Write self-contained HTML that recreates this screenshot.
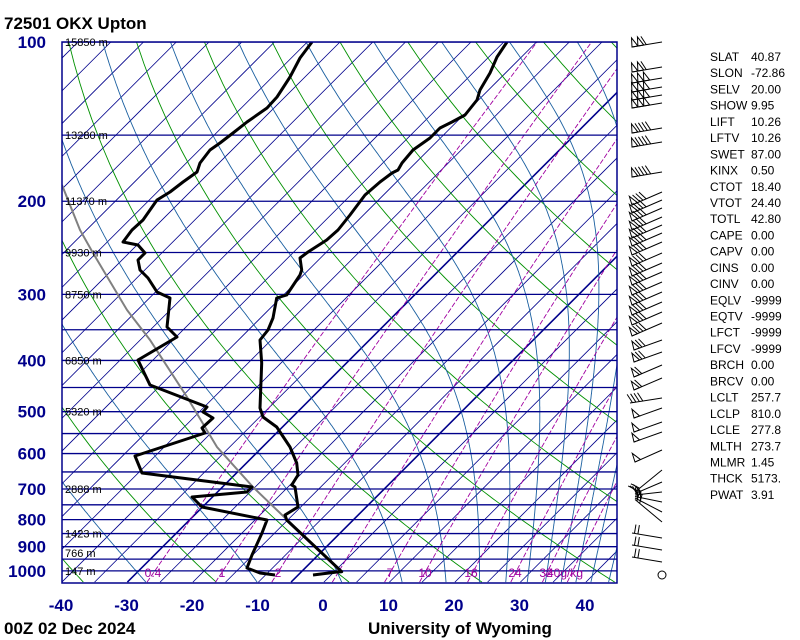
<!DOCTYPE html>
<html><head><meta charset="utf-8">
<style>
html,body{margin:0;padding:0;background:#fff;}
svg{display:block;}
text{font-family:"Liberation Sans",sans-serif;}
</style></head>
<body>
<svg id="s" width="800" height="640" xmlns="http://www.w3.org/2000/svg">
<defs><clipPath id="c"><rect x="62" y="42" width="555" height="541"/></clipPath></defs>
<rect width="800" height="640" fill="#fff"/>
<g id="grid" clip-path="url(#c)"></g>
<g id="data" clip-path="url(#c)"></g>
<rect x="62" y="42" width="555" height="541" fill="none" stroke="#00008b" stroke-width="1.5"/>
<g id="lab"></g>
<g id="barbs" stroke="#000" stroke-width="1" fill="none"></g>
<text x="4" y="29" font-size="17" font-weight="bold">72501 OKX Upton</text>
<text x="4" y="634" font-size="17" font-weight="bold">00Z 02 Dec 2024</text>
<text x="368" y="634" font-size="17" font-weight="bold">University of Wyoming</text>
</svg>
<script>
(function(){
var NS="http://www.w3.org/2000/svg";
function Y(p){return 42+229.7*Math.log(p/100);}
function X(T,p){return 323+6.55*T+(583-Y(p));}
function el(par,tag,a,txt){var e=document.createElementNS(NS,tag);for(var k in a)e.setAttribute(k,a[k]);if(txt!==undefined)e.textContent=txt;document.getElementById(par).appendChild(e);return e;}
function path(par,pts,a){var d="";pts.forEach(function(q,i){d+=(i?"L":"M")+q[0].toFixed(1)+" "+q[1].toFixed(1);});a.d=d;a.fill="none";return el(par,"path",a);}
for(var T=-150;T<=50;T+=5){
  var thick=(T==-5||T==-30);
  path("grid",[[X(T,1050),Y(1050)],[X(T,100),Y(100)]],{stroke:"#00008b","stroke-width":thick?1.6:0.8});
}
for(var th=-40;th<=220;th+=20){var pts=[];for(var p=1050;p>=100;p-=10){var t=(th+273.15)*Math.pow(p/1000,0.286)-273.15;pts.push([X(t,p),Y(p)]);}path("grid",pts,{stroke:"#009000","stroke-width":0.9});}
function es(t){return 6.112*Math.exp(17.67*t/(t+243.5));}
for(var th2=-30;th2<=230;th2+=20){
 var TK=(th2+273.15)*Math.pow(0.1,0.286),pts2=[],p2=100;pts2.push([X(TK-273.15,p2),Y(p2)]);
 while(p2<1050){var tc=TK-273.15,e=es(tc),rs=0.622*e/(p2-e);
  var b=(287*TK+2.5e6*rs)/(1004+2.5e6*2.5e6*rs*0.622/(287*TK*TK));
  TK+=b/p2*2;p2+=2;pts2.push([X(TK-273.15,p2),Y(p2)]);if(TK>340)break;}
 path("grid",pts2,{stroke:"#1a5fa0","stroke-width":0.9});
}
var ws=[0.4,1,2,4,7,10,16,24,32,40];
ws.forEach(function(w){var pts=[];for(var p=1050;p>=100;p-=10){var e=w*p/(622+w),l=Math.log(e/6.112),td=243.5*l/(17.67-l);pts.push([X(td,p),Y(p)]);}path("grid",pts,{stroke:"#a000a0","stroke-width":0.9,"stroke-dasharray":"5,2"});});
for(var pp=100;pp<=1000;pp+=50){el("grid","line",{x1:62,x2:617,y1:Y(pp),y2:Y(pp),stroke:"#00008b","stroke-width":1.3});}
[["0.4",153],["1",222],["2",278],["7",390],["10",425],["16",471],["24",515],["32",546],["40g/kg",565]].forEach(function(l){el("lab","text",{x:l[1],y:577,"font-size":12,fill:"#a000a0","text-anchor":"middle"},l[0]);});
[["15850 m",100],["13280 m",150],["11370 m",200],["9930 m",250],["8750 m",300],["6850 m",400],["5320 m",500],["2888 m",700],["1423 m",850],["766 m",925],["147 m",1000]].forEach(function(h){var yy=Y(h[1]);if(h[1]==925)yy=553;el("lab","text",{x:65,y:yy+4,"font-size":11,fill:"#000"},h[0]);});
[100,200,300,400,500,600,700,800,900,1000].forEach(function(p){el("lab","text",{x:46,y:Y(p)+6,"font-size":17,"font-weight":"bold",fill:"#00008b","text-anchor":"end"},""+p);});
[-40,-30,-20,-10,0,10,20,30,40].forEach(function(t){el("lab","text",{x:323+6.55*t,y:611,"font-size":17,"font-weight":"bold",fill:"#00008b","text-anchor":"middle"},""+t);});
var temp=[[313,575],[337,572],[341.7,571.7],[286.7,520],[285,515],[298,507],[295,487],[291.7,485],[298,475],[296.7,463],[290,447],[276.7,427],[263,417],[260,408],[261.7,363],[260,340],[268,330],[273,318],[276.7,298],[286.7,295],[300,275],[301.7,270],[300,258],[308,252],[326.7,240],[338,230],[350,215],[365,195],[380,182],[392,173],[398,170],[402,163],[413,150],[430,138],[440,128],[452,122],[465,115],[477,100],[480,90],[490,73],[497,57],[507,42]];
var dew=[[275,575],[260,573],[247,568],[252,555],[262,533],[267,520],[202,507],[192,497],[247,492],[252,487],[142,473],[135,456],[205,433],[202,428],[213,418],[203,412],[207,407],[150,385],[138,360],[177,337],[167,327],[170,298],[157,292],[148,278],[140,270],[138,260],[145,253],[138,245],[123,242],[132,230],[143,220],[157,200],[170,192],[183,182],[197,172],[200,163],[210,150],[220,143],[233,133],[247,122],[267,108],[277,97],[290,77],[300,58],[312,42]];
var parc=[[341,572],[280,513],[253,487],[217,447],[187,397],[150,340],[127,310],[93,253],[80,230],[62,185]];
path("data",parc,{stroke:"#808080","stroke-width":2});
path("data",temp,{stroke:"#000","stroke-width":3,"stroke-linejoin":"round"});
path("data",dew,{stroke:"#000","stroke-width":3,"stroke-linejoin":"round"});
var st=[["SLAT","40.87"],["SLON","-72.86"],["SELV","20.00"],["SHOW","9.95"],["LIFT","10.26"],["LFTV","10.26"],["SWET","87.00"],["KINX","0.50"],["CTOT","18.40"],["VTOT","24.40"],["TOTL","42.80"],["CAPE","0.00"],["CAPV","0.00"],["CINS","0.00"],["CINV","0.00"],["EQLV","-9999"],["EQTV","-9999"],["LFCT","-9999"],["LFCV","-9999"],["BRCH","0.00"],["BRCV","0.00"],["LCLT","257.7"],["LCLP","810.0"],["LCLE","277.8"],["MLTH","273.7"],["MLMR","1.45"],["THCK","5173."],["PWAT","3.91"]];
st.forEach(function(s,i){var yy=61+16.22*i;el("lab","text",{x:710,y:yy,"font-size":12},s[0]);el("lab","text",{x:751,y:yy,"font-size":12},s[1]);});
function barb(yr,xl,yl,flags,feath,tilt){
 if(tilt===undefined)tilt=-4;
 var xr=662;el("barbs","line",{x1:xr,y1:yr,x2:xl,y2:yl});
 var dx=(xr-xl),dy=(yr-yl),L=Math.sqrt(dx*dx+dy*dy),ux=dx/L,uy=dy/L;
 var px=-uy,py=ux;
 if(py>0){px=-px;py=-py;}
 var pos=0;
 for(var i=0;i<flags;i++){var ax=xl+ux*pos,ay=yl+uy*pos,bx=xl+ux*(pos+6),by=yl+uy*(pos+6);
  el("barbs","polygon",{points:ax+","+ay+" "+(ax+px*9+ux*1)+","+(ay+py*9+uy*1)+" "+bx+","+by});pos+=6;}
 for(var j=0;j<feath;j++){var fx=xl+ux*(pos+2.5),fy=yl+uy*(pos+2.5);
  el("barbs","line",{x1:fx,y1:fy,x2:fx+px*9+ux*tilt,y2:fy+py*9+uy*tilt});pos+=3.5;}
}
var topB=[[42,2,1],[67,2,1],[78,3,0],[87,3,0],[95,3,0],[103,3,0],[128,1,4],[142,1,4],[172,1,4]];
topB.forEach(function(b){barb(b[0],632,b[0]+5,b[1],b[2]);});
[192,200,208,217,225,233,242,253,263,272,282,292,302,312,323].forEach(function(y){barb(y,632,y+13,1,3);});
[340,352].forEach(function(y){barb(y,634,y+10,1,2);});
[365,378].forEach(function(y){barb(y,634,y+12,1,1);});
barb(398,630,403,0,4);
[408,422,432].forEach(function(y){barb(y,634,y+10,1,0);});
barb(450,635,462,1,0);
[470,482,492,502,512,522].forEach(function(y,i){barb(y,635,492+i*1.5,0,2);});
[533,545,557].forEach(function(y){barb(y+5,632,y,0,2,0);});
el("barbs","circle",{cx:662,cy:575,r:4});
})();
</script>
</body></html>
